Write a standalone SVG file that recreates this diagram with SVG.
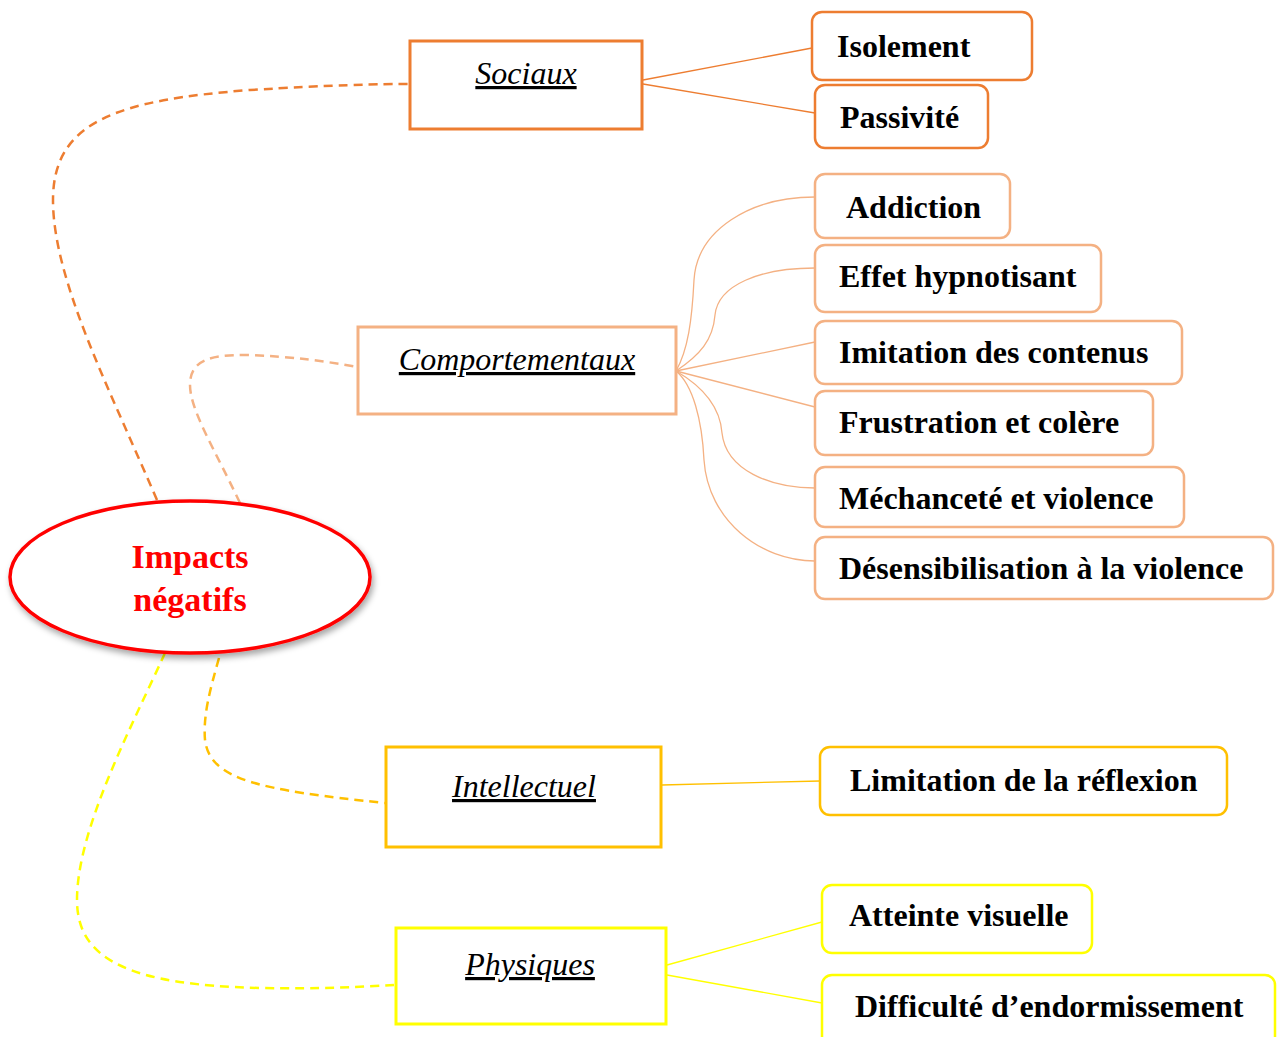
<svg xmlns="http://www.w3.org/2000/svg" width="1279" height="1037" viewBox="0 0 1279 1037">
<defs>
<filter id="sh" x="-10%" y="-10%" width="130%" height="140%">
<feDropShadow dx="2" dy="4" stdDeviation="3" flood-color="#000" flood-opacity="0.35"/>
</filter>
</defs>
<style>
.cat{fill:#fff;stroke-width:3}
.leaf{fill:#fff;stroke-width:2.5}
.ct{font-family:"Liberation Serif","Times New Roman",serif;font-style:italic;font-size:32px;fill:#000;text-decoration:underline;text-anchor:middle}
.lt{font-family:"Liberation Serif","Times New Roman",serif;font-weight:bold;font-size:32px;fill:#000}
.dash{fill:none;stroke-width:2.5;stroke-dasharray:9 6}
.ln{fill:none;stroke-width:1.3}
.o1{stroke:#ED7D31}.o2{stroke:#F4B183}.o3{stroke:#FFC000}.o4{stroke:#FFFF00}
</style>
<g id="connectors">
<path class="dash o1" d="M157,500 C110,390 53,280 53,200 C53,120 120,100 250,90 C330,85 380,84 410,84"/>
<path class="dash o2" d="M240,503 C215,450 190,410 190,385 C190,360 210,355 245,355 C290,356 330,362 358,367"/>
<path class="dash o3" d="M219,658 C210,690 203,715 205,740 C210,780 260,790 385,803"/>
<path class="dash o4" d="M165,653 C130,730 77,830 77,900 C77,960 130,985 260,988 C320,989 360,987 395,985"/>
<path class="ln o1" d="M643,80 L812,48"/>
<path class="ln o1" d="M643,84 L815,113"/>
<path class="ln o2" d="M676,371 C688,350 692,320 694,280 C697,230 750,197 815,197"/>
<path class="ln o2" d="M676,371 C700,355 713,340 715,315 C718,285 760,268 815,268"/>
<path class="ln o2" d="M676,371 L815,342"/>
<path class="ln o2" d="M676,371 L815,407"/>
<path class="ln o2" d="M676,371 C700,385 720,405 722,433 C726,470 770,488 815,488"/>
<path class="ln o2" d="M676,371 C693,385 702,420 704,460 C708,520 760,561 815,561"/>
<path class="ln o3" d="M662,785 L820,781"/>
<path class="ln o4" d="M667,965 L822,922"/>
<path class="ln o4" d="M667,975 L822,1003"/>
</g>
<g id="center">
<ellipse cx="190" cy="577" rx="180" ry="76" fill="#fff" stroke="#FF0000" stroke-width="3.5" filter="url(#sh)"/>
<text x="190" y="568" text-anchor="middle" font-family="Liberation Serif,Times New Roman,serif" font-weight="bold" font-size="34" fill="#FF0000">Impacts</text>
<text x="190" y="611" text-anchor="middle" font-family="Liberation Serif,Times New Roman,serif" font-weight="bold" font-size="34" fill="#FF0000">négatifs</text>
</g>
<g id="sociaux">
<rect class="cat o1" x="410" y="41" width="232" height="88"/>
<text class="ct" x="526" y="84">Sociaux</text>
</g>
<g id="isolement">
<rect class="leaf o1" x="812" y="12" width="220" height="68" rx="10"/>
<text class="lt" x="837" y="57">Isolement</text>
</g>
<g id="passivite">
<rect class="leaf o1" x="815" y="85" width="173" height="63" rx="10"/>
<text class="lt" x="840" y="128">Passivité</text>
</g>
<g id="comportementaux">
<rect class="cat o2" x="358" y="327" width="318" height="87"/>
<text class="ct" x="517" y="370">Comportementaux</text>
</g>
<g id="addiction">
<rect class="leaf o2" x="815" y="174" width="195" height="64" rx="10"/>
<text class="lt" x="846" y="218">Addiction</text>
</g>
<g id="effet">
<rect class="leaf o2" x="815" y="245" width="286" height="67" rx="10"/>
<text class="lt" x="839" y="287">Effet hypnotisant</text>
</g>
<g id="imitation">
<rect class="leaf o2" x="815" y="321" width="367" height="63" rx="10"/>
<text class="lt" x="839" y="363">Imitation des contenus</text>
</g>
<g id="frustration">
<rect class="leaf o2" x="815" y="391" width="338" height="64" rx="10"/>
<text class="lt" x="839" y="433">Frustration et colère</text>
</g>
<g id="mechancete">
<rect class="leaf o2" x="815" y="467" width="369" height="60" rx="10"/>
<text class="lt" x="839" y="509">Méchanceté et violence</text>
</g>
<g id="desensibilisation">
<rect class="leaf o2" x="815" y="537" width="458" height="62" rx="10"/>
<text class="lt" x="839" y="579">Désensibilisation à la violence</text>
</g>
<g id="intellectuel">
<rect class="cat o3" x="386" y="747" width="275" height="100"/>
<text class="ct" x="524" y="797">Intellectuel</text>
</g>
<g id="limitation">
<rect class="leaf o3" x="820" y="747" width="407" height="68" rx="10"/>
<text class="lt" x="850" y="791">Limitation de la réflexion</text>
</g>
<g id="physiques">
<rect class="cat o4" x="396" y="928" width="270" height="96"/>
<text class="ct" x="530" y="975">Physiques</text>
</g>
<g id="atteinte">
<rect class="leaf o4" x="822" y="885" width="270" height="68" rx="10"/>
<text class="lt" x="849" y="926">Atteinte visuelle</text>
</g>
<g id="difficulte">
<rect class="leaf o4" x="822" y="975" width="453" height="80" rx="10"/>
<text class="lt" x="855" y="1017">Difficulté d’endormissement</text>
</g>
</svg>
